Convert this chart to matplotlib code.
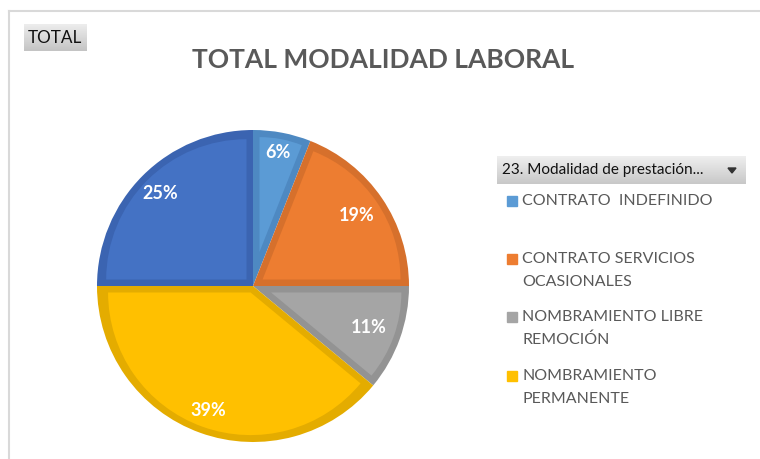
import numpy as np
import matplotlib
matplotlib.use("Agg")
import matplotlib.pyplot as plt
from matplotlib.patches import Rectangle, Polygon

# ---- data ----
categories = ["CONTRATO  INDEFINIDO", "CONTRATO SERVICIOS\nOCASIONALES",
              "NOMBRAMIENTO LIBRE\nREMOCIÓN", "NOMBRAMIENTO\nPERMANENTE",
              "PROVISIONALIDAD"]
values = [6, 19, 11, 39, 25]
pct_labels = ["6%", "19%", "11%", "39%", "25%"]
colors = ["#5B9BD5", "#ED7D31", "#A5A5A5", "#FFC000", "#4472C4"]
edge_colors = ["#4E89C2", "#D6702C", "#939393", "#E4AC00", "#3B64B1"]
label_dist = [0.87, 0.80, 0.79, 0.85, 0.84]
legend_shown = 4
title = "TOTAL MODALIDAD LABORAL"
filter_button = "TOTAL"
legend_header = "23. Modalidad de prestación..."

W, H = 760, 459
fig = plt.figure(figsize=(W / 100, H / 100), dpi=100)
fig.patch.set_facecolor("white")

def fx(x): return x / W
def fy(y): return 1 - y / H

# chart frame
fig.add_artist(plt.Line2D([fx(8.5), fx(8.5)], [fy(10.5), 0], color="#D9D9D9", lw=1.5))
fig.add_artist(plt.Line2D([fx(8.5), 1], [fy(10.5), fy(10.5)], color="#D9D9D9", lw=1.5))

def gradient_box(x0, y0, x1, y1, top="#EDEDED", bottom="#C4C4C4"):
    ax = fig.add_axes([fx(x0), fy(y1), fx(x1 - x0), (y1 - y0) / H])
    c1 = np.array(matplotlib.colors.to_rgb(top))
    c2 = np.array(matplotlib.colors.to_rgb(bottom))
    t = np.linspace(0, 1, 50)[:, None]
    img = (c1 * (1 - t) + c2 * t)[:, None, :]
    ax.imshow(img, aspect="auto", extent=(0, 1, 0, 1))
    ax.set_axis_off()
    return ax

# TOTAL button
gradient_box(24, 24, 87, 51)
fig.text(fx(28), fy(38), filter_button, fontsize=12.3, family="Lato",
         color="#111111", va="center", ha="left")

# title
fig.text(fx(383), fy(60), title, fontsize=19, family="Lato", weight="bold",
         color="#595959", ha="center", va="center")

# pie
cx, cy, r = 253, 286, 156
ax = fig.add_axes([fx(cx - r), fy(cy + r), 2 * r / W, 2 * r / H])
total = sum(values)
border = 6.5 / r
half_angles = [np.pi * v / total for v in values]
inner_shift = [border / np.sin(h) for h in half_angles]
ax.pie(values, colors=edge_colors, startangle=90, counterclock=False,
       radius=1, wedgeprops=dict(linewidth=0))
ax.pie(values, colors=colors, startangle=90, counterclock=False,
       explode=inner_shift, radius=1 - border - max(inner_shift) * 0.0,
       wedgeprops=dict(linewidth=0))
# trim inner wedges so they stay inside the outer border ring
for w, s in zip(ax.patches[len(values):], inner_shift):
    w.set_radius(1 - border - s)
cum = 0
for v, lab, d in zip(values, pct_labels, label_dist):
    mid = (cum + v / 2) / total * 2 * np.pi
    cum += v
    ax.text(d * np.sin(mid), d * np.cos(mid), lab, color="white", fontsize=13,
            weight="bold", family="Lato", ha="center", va="center")
ax.set_xlim(-1, 1)
ax.set_ylim(-1, 1)
ax.set_aspect("auto")
ax.set_axis_off()

# legend header
gradient_box(497, 156, 746, 184, top="#EFEFEF", bottom="#C8C8C8")
fig.text(fx(502), fy(170), legend_header, fontsize=11, family="Lato",
         color="#111111", va="center", ha="left")
fig.add_artist(Polygon([[fx(728), fy(168)], [fx(736), fy(168)], [fx(732), fy(173)]],
                       closed=True, color="#333333", transform=fig.transFigure))

# legend entries
ys = [201, 259, 317, 376]
for i in range(legend_shown):
    y = ys[i]
    fig.add_artist(Rectangle((fx(507), fy(y + 5)), fx(10), 10 / H, color=colors[i],
                             transform=fig.transFigure))
    lines = categories[i].split("\n")
    for j, ln in enumerate(lines):
        fig.text(fx(522), fy(y + 23 * j), ln, fontsize=11.5, family="Lato",
                 color="#595959", va="center", ha="left")

fig.savefig("out.png", dpi=100, facecolor="white")
